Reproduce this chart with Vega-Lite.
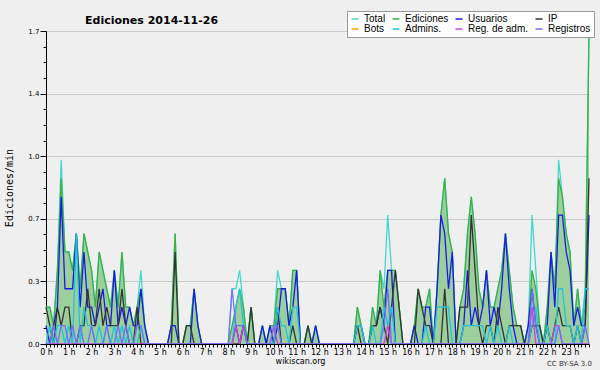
{
"$schema":"https://vega.github.io/schema/vega-lite/v6.json",
"width":543,"height":313,
"autosize":"none",
"padding":{"left":46,"top":31,"right":11,"bottom":26},
"background":"#efeff0",
"config":{"view":{"stroke":null}},
"title":{"text":"Ediciones  2014-11-26","anchor":"start","frame":"group","dx":39,"dy":19,"font":"DejaVu Sans","fontSize":11,"fontWeight":"bold","color":"black","offset":4},
"data":{"values":[
{"m":0,"T":0.2,"E":0.2,"U":0.1,"I":0.2,"A":0,"R":0,"L":0},
{"m":10,"T":0.2,"E":0.2,"U":0,"I":0.1,"A":0.1,"R":0,"L":0},
{"m":20,"T":0.1,"E":0.1,"U":0.1,"I":0,"A":0,"R":0,"L":0.1},
{"m":30,"T":0.4,"E":0.4,"U":0.2,"I":0.2,"A":0.1,"R":0,"L":0},
{"m":40,"T":1.0,"E":0.9,"U":0.8,"I":0.1,"A":0.1,"R":0,"L":0.1},
{"m":50,"T":0.5,"E":0.5,"U":0.3,"I":0.2,"A":0,"R":0,"L":0.1},
{"m":60,"T":0.5,"E":0.5,"U":0.3,"I":0.2,"A":0.1,"R":0,"L":0},
{"m":70,"T":0.4,"E":0.4,"U":0.3,"I":0,"A":0,"R":0,"L":0.1},
{"m":80,"T":0.6,"E":0.6,"U":0.6,"I":0,"A":0.6,"R":0,"L":0},
{"m":90,"T":0.3,"E":0.3,"U":0.2,"I":0.1,"A":0,"R":0,"L":0.1},
{"m":100,"T":0.6,"E":0.6,"U":0.5,"I":0.1,"A":0.2,"R":0,"L":0},
{"m":110,"T":0.5,"E":0.5,"U":0.2,"I":0.3,"A":0.1,"R":0,"L":0},
{"m":120,"T":0.4,"E":0.4,"U":0.2,"I":0.1,"A":0.1,"R":0,"L":0.1},
{"m":130,"T":0.2,"E":0.2,"U":0.1,"I":0.1,"A":0,"R":0,"L":0},
{"m":140,"T":0.5,"E":0.5,"U":0.2,"I":0.3,"A":0.1,"R":0,"L":0},
{"m":150,"T":0.4,"E":0.4,"U":0.3,"I":0.1,"A":0,"R":0,"L":0},
{"m":160,"T":0.3,"E":0.3,"U":0.1,"I":0.2,"A":0.1,"R":0,"L":0.1},
{"m":170,"T":0.2,"E":0.2,"U":0.1,"I":0.1,"A":0,"R":0,"L":0},
{"m":180,"T":0.4,"E":0.4,"U":0.4,"I":0.1,"A":0.1,"R":0,"L":0},
{"m":190,"T":0.2,"E":0.2,"U":0.1,"I":0.1,"A":0,"R":0,"L":0.1},
{"m":200,"T":0.5,"E":0.5,"U":0.2,"I":0.3,"A":0.1,"R":0,"L":0},
{"m":210,"T":0.2,"E":0.2,"U":0.1,"I":0.1,"A":0,"R":0,"L":0.1},
{"m":220,"T":0.2,"E":0.2,"U":0.2,"I":0,"A":0.1,"R":0,"L":0},
{"m":230,"T":0.1,"E":0.1,"U":0.1,"I":0,"A":0,"R":0,"L":0},
{"m":240,"T":0.2,"E":0.2,"U":0.1,"I":0.2,"A":0,"R":0,"L":0.1},
{"m":250,"T":0.4,"E":0.3,"U":0.3,"I":0,"A":0.1,"R":0,"L":0.1},
{"m":260,"T":0.1,"E":0.1,"U":0.1,"I":0,"A":0,"R":0,"L":0},
{"m":270,"T":0,"E":0,"U":0,"I":0,"A":0,"R":0,"L":0},
{"m":280,"T":0,"E":0,"U":0,"I":0,"A":0,"R":0,"L":0},
{"m":290,"T":0,"E":0,"U":0,"I":0,"A":0,"R":0,"L":0},
{"m":300,"T":0,"E":0,"U":0,"I":0,"A":0,"R":0,"L":0},
{"m":310,"T":0,"E":0,"U":0,"I":0,"A":0,"R":0,"L":0},
{"m":320,"T":0,"E":0,"U":0,"I":0,"A":0,"R":0,"L":0},
{"m":330,"T":0.1,"E":0.1,"U":0.1,"I":0,"A":0,"R":0,"L":0},
{"m":340,"T":0.6,"E":0.6,"U":0.1,"I":0.5,"A":0,"R":0,"L":0},
{"m":350,"T":0,"E":0,"U":0,"I":0,"A":0,"R":0,"L":0},
{"m":360,"T":0,"E":0,"U":0,"I":0,"A":0,"R":0,"L":0},
{"m":370,"T":0.1,"E":0.1,"U":0,"I":0.1,"A":0,"R":0,"L":0},
{"m":380,"T":0.1,"E":0.1,"U":0,"I":0.1,"A":0,"R":0,"L":0},
{"m":390,"T":0.3,"E":0.3,"U":0.3,"I":0,"A":0,"R":0,"L":0},
{"m":400,"T":0.1,"E":0.1,"U":0.1,"I":0,"A":0,"R":0,"L":0},
{"m":410,"T":0,"E":0,"U":0,"I":0,"A":0,"R":0,"L":0},
{"m":420,"T":0,"E":0,"U":0,"I":0,"A":0,"R":0,"L":0},
{"m":430,"T":0,"E":0,"U":0,"I":0,"A":0,"R":0,"L":0},
{"m":440,"T":0,"E":0,"U":0,"I":0,"A":0,"R":0,"L":0},
{"m":450,"T":0,"E":0,"U":0,"I":0,"A":0,"R":0,"L":0},
{"m":460,"T":0,"E":0,"U":0,"I":0,"A":0,"R":0,"L":0},
{"m":470,"T":0,"E":0,"U":0,"I":0,"A":0,"R":0,"L":0},
{"m":480,"T":0,"E":0,"U":0,"I":0,"A":0,"R":0,"L":0},
{"m":490,"T":0.3,"E":0.1,"U":0,"I":0,"A":0,"R":0,"L":0.3},
{"m":500,"T":0.3,"E":0.2,"U":0.1,"I":0,"A":0.2,"R":0.1,"L":0.1},
{"m":510,"T":0.4,"E":0.3,"U":0,"I":0,"A":0.3,"R":0,"L":0.1},
{"m":520,"T":0.2,"E":0.2,"U":0.1,"I":0.1,"A":0.1,"R":0.1,"L":0.1},
{"m":530,"T":0,"E":0,"U":0,"I":0,"A":0,"R":0,"L":0},
{"m":540,"T":0.2,"E":0.2,"U":0,"I":0.2,"A":0,"R":0,"L":0},
{"m":550,"T":0,"E":0,"U":0,"I":0,"A":0,"R":0,"L":0},
{"m":560,"T":0,"E":0,"U":0,"I":0,"A":0,"R":0,"L":0},
{"m":570,"T":0.1,"E":0.1,"U":0.1,"I":0,"A":0,"R":0,"L":0},
{"m":580,"T":0,"E":0,"U":0,"I":0,"A":0,"R":0,"L":0},
{"m":590,"T":0.1,"E":0.1,"U":0.1,"I":0,"A":0,"R":0,"L":0},
{"m":600,"T":0.1,"E":0.1,"U":0,"I":0,"A":0,"R":0.1,"L":0.1},
{"m":610,"T":0.4,"E":0.3,"U":0.1,"I":0.2,"A":0.2,"R":0,"L":0.1},
{"m":620,"T":0.3,"E":0.3,"U":0.3,"I":0,"A":0.1,"R":0,"L":0},
{"m":630,"T":0.3,"E":0.3,"U":0.3,"I":0,"A":0.1,"R":0,"L":0},
{"m":640,"T":0.1,"E":0.1,"U":0.1,"I":0,"A":0,"R":0,"L":0},
{"m":650,"T":0.4,"E":0.4,"U":0.2,"I":0.1,"A":0.2,"R":0,"L":0},
{"m":660,"T":0.4,"E":0.4,"U":0.4,"I":0,"A":0.2,"R":0,"L":0},
{"m":670,"T":0,"E":0,"U":0,"I":0,"A":0,"R":0,"L":0},
{"m":680,"T":0,"E":0,"U":0,"I":0,"A":0,"R":0,"L":0},
{"m":690,"T":0.1,"E":0.1,"U":0,"I":0.1,"A":0,"R":0,"L":0},
{"m":700,"T":0,"E":0,"U":0,"I":0,"A":0,"R":0,"L":0},
{"m":710,"T":0.1,"E":0.1,"U":0.1,"I":0,"A":0,"R":0,"L":0},
{"m":720,"T":0,"E":0,"U":0,"I":0,"A":0,"R":0,"L":0},
{"m":730,"T":0,"E":0,"U":0,"I":0,"A":0,"R":0,"L":0},
{"m":740,"T":0,"E":0,"U":0,"I":0,"A":0,"R":0,"L":0},
{"m":750,"T":0,"E":0,"U":0,"I":0,"A":0,"R":0,"L":0},
{"m":760,"T":0,"E":0,"U":0,"I":0,"A":0,"R":0,"L":0},
{"m":770,"T":0,"E":0,"U":0,"I":0,"A":0,"R":0,"L":0},
{"m":780,"T":0,"E":0,"U":0,"I":0,"A":0,"R":0,"L":0},
{"m":790,"T":0,"E":0,"U":0,"I":0,"A":0,"R":0,"L":0},
{"m":800,"T":0,"E":0,"U":0,"I":0,"A":0,"R":0,"L":0},
{"m":810,"T":0,"E":0,"U":0,"I":0,"A":0,"R":0,"L":0},
{"m":820,"T":0.2,"E":0.2,"U":0.1,"I":0.1,"A":0.1,"R":0,"L":0},
{"m":830,"T":0.1,"E":0.1,"U":0.1,"I":0,"A":0.1,"R":0,"L":0},
{"m":840,"T":0,"E":0,"U":0,"I":0,"A":0,"R":0,"L":0},
{"m":850,"T":0,"E":0,"U":0,"I":0,"A":0,"R":0,"L":0},
{"m":860,"T":0.2,"E":0.2,"U":0.1,"I":0.1,"A":0.1,"R":0,"L":0},
{"m":870,"T":0.1,"E":0.1,"U":0.1,"I":0.1,"A":0,"R":0,"L":0},
{"m":880,"T":0.4,"E":0.4,"U":0.2,"I":0.2,"A":0,"R":0,"L":0},
{"m":890,"T":0.3,"E":0.2,"U":0.1,"I":0.1,"A":0.2,"R":0,"L":0.1},
{"m":900,"T":0.7,"E":0.4,"U":0.4,"I":0,"A":0.1,"R":0.1,"L":0.3},
{"m":910,"T":0.4,"E":0.4,"U":0.4,"I":0.2,"A":0.2,"R":0,"L":0},
{"m":920,"T":0.4,"E":0.4,"U":0,"I":0.4,"A":0,"R":0,"L":0},
{"m":930,"T":0.2,"E":0.2,"U":0,"I":0.2,"A":0,"R":0,"L":0},
{"m":940,"T":0,"E":0,"U":0,"I":0,"A":0,"R":0,"L":0},
{"m":950,"T":0,"E":0,"U":0,"I":0,"A":0,"R":0,"L":0},
{"m":960,"T":0,"E":0,"U":0,"I":0,"A":0,"R":0,"L":0},
{"m":970,"T":0.1,"E":0.1,"U":0.1,"I":0,"A":0,"R":0,"L":0},
{"m":980,"T":0.3,"E":0.3,"U":0,"I":0.3,"A":0,"R":0,"L":0},
{"m":990,"T":0.2,"E":0.2,"U":0,"I":0.2,"A":0,"R":0,"L":0},
{"m":1000,"T":0.2,"E":0.2,"U":0.2,"I":0.1,"A":0.1,"R":0,"L":0},
{"m":1010,"T":0.3,"E":0.3,"U":0.2,"I":0.1,"A":0,"R":0,"L":0},
{"m":1020,"T":0,"E":0,"U":0,"I":0,"A":0,"R":0,"L":0},
{"m":1030,"T":0.3,"E":0.3,"U":0.3,"I":0,"A":0.2,"R":0,"L":0},
{"m":1040,"T":0.7,"E":0.7,"U":0.7,"I":0,"A":0.2,"R":0,"L":0},
{"m":1050,"T":0.9,"E":0.9,"U":0.6,"I":0.3,"A":0.2,"R":0,"L":0},
{"m":1060,"T":0.6,"E":0.6,"U":0.3,"I":0,"A":0.2,"R":0,"L":0},
{"m":1070,"T":0.5,"E":0.5,"U":0.5,"I":0,"A":0,"R":0,"L":0},
{"m":1080,"T":0,"E":0,"U":0,"I":0,"A":0,"R":0,"L":0},
{"m":1090,"T":0.2,"E":0.2,"U":0,"I":0.2,"A":0,"R":0,"L":0},
{"m":1100,"T":0.3,"E":0.3,"U":0.1,"I":0.2,"A":0.1,"R":0,"L":0},
{"m":1110,"T":0.6,"E":0.6,"U":0.4,"I":0.2,"A":0.1,"R":0,"L":0},
{"m":1120,"T":0.8,"E":0.8,"U":0.1,"I":0.7,"A":0.1,"R":0,"L":0},
{"m":1130,"T":0.6,"E":0.6,"U":0.2,"I":0.4,"A":0.1,"R":0,"L":0},
{"m":1140,"T":0.3,"E":0.3,"U":0.1,"I":0.1,"A":0.1,"R":0,"L":0},
{"m":1150,"T":0.2,"E":0.2,"U":0.2,"I":0,"A":0.1,"R":0,"L":0},
{"m":1160,"T":0.4,"E":0.4,"U":0.4,"I":0.1,"A":0,"R":0,"L":0},
{"m":1170,"T":0.2,"E":0.2,"U":0.1,"I":0.1,"A":0.1,"R":0,"L":0},
{"m":1180,"T":0.2,"E":0.2,"U":0.2,"I":0,"A":0,"R":0,"L":0},
{"m":1190,"T":0.3,"E":0.3,"U":0.1,"I":0.2,"A":0.1,"R":0,"L":0},
{"m":1200,"T":0.4,"E":0.4,"U":0.3,"I":0.1,"A":0,"R":0,"L":0},
{"m":1210,"T":0.6,"E":0.6,"U":0.6,"I":0,"A":0,"R":0,"L":0},
{"m":1220,"T":0.4,"E":0.4,"U":0.3,"I":0.1,"A":0.1,"R":0,"L":0},
{"m":1230,"T":0.2,"E":0.2,"U":0.1,"I":0.1,"A":0,"R":0,"L":0},
{"m":1240,"T":0.1,"E":0.1,"U":0,"I":0.1,"A":0,"R":0,"L":0},
{"m":1250,"T":0.1,"E":0.1,"U":0,"I":0.1,"A":0,"R":0,"L":0},
{"m":1260,"T":0,"E":0,"U":0,"I":0,"A":0,"R":0,"L":0},
{"m":1270,"T":0.1,"E":0.1,"U":0.1,"I":0,"A":0,"R":0,"L":0},
{"m":1280,"T":0.7,"E":0.4,"U":0.3,"I":0.1,"A":0.1,"R":0.2,"L":0.3},
{"m":1290,"T":0.4,"E":0.3,"U":0.1,"I":0.1,"A":0.2,"R":0,"L":0.1},
{"m":1300,"T":0.1,"E":0.1,"U":0,"I":0.1,"A":0,"R":0,"L":0},
{"m":1310,"T":0,"E":0,"U":0,"I":0,"A":0,"R":0,"L":0},
{"m":1320,"T":0.2,"E":0.2,"U":0.1,"I":0.1,"A":0.1,"R":0,"L":0},
{"m":1330,"T":0.5,"E":0.5,"U":0.5,"I":0,"A":0,"R":0,"L":0},
{"m":1340,"T":0.3,"E":0.3,"U":0.2,"I":0.1,"A":0,"R":0.1,"L":0},
{"m":1350,"T":1.0,"E":0.9,"U":0.7,"I":0.2,"A":0.3,"R":0.1,"L":0.1},
{"m":1360,"T":0.8,"E":0.8,"U":0.7,"I":0.1,"A":0.3,"R":0,"L":0},
{"m":1370,"T":0.6,"E":0.6,"U":0.5,"I":0.1,"A":0.1,"R":0,"L":0},
{"m":1380,"T":0.5,"E":0.5,"U":0.4,"I":0.1,"A":0.1,"R":0,"L":0},
{"m":1390,"T":0.1,"E":0.1,"U":0.1,"I":0,"A":0,"R":0,"L":0},
{"m":1400,"T":0.3,"E":0.3,"U":0.2,"I":0.1,"A":0.1,"R":0,"L":0},
{"m":1410,"T":0.1,"E":0.1,"U":0.1,"I":0,"A":0,"R":0,"L":0},
{"m":1420,"T":0.3,"E":0.2,"U":0.1,"I":0.1,"A":0.3,"R":0,"L":0.1},
{"m":1430,"T":1.7,"E":1.7,"U":0.7,"I":0.9,"A":0.3,"R":0,"L":0}
]},
"layer":[
{"mark":{"type":"area","color":"#9ccf9c","opacity":1},
 "encoding":{
  "x":{"field":"m","type":"quantitative","title":"wikiscan.org","scale":{"domain":[0,1430],"nice":false,"zero":false},
   "axis":{"values":[0,10,20,30,40,50,60,70,80,90,100,110,120,130,140,150,160,170,180,190,200,210,220,230,240,250,260,270,280,290,300,310,320,330,340,350,360,370,380,390,400,410,420,430,440,450,460,470,480,490,500,510,520,530,540,550,560,570,580,590,600,610,620,630,640,650,660,670,680,690,700,710,720,730,740,750,760,770,780,790,800,810,820,830,840,850,860,870,880,890,900,910,920,930,940,950,960,970,980,990,1000,1010,1020,1030,1040,1050,1060,1070,1080,1090,1100,1110,1120,1130,1140,1150,1160,1170,1180,1190,1200,1210,1220,1230,1240,1250,1260,1270,1280,1290,1300,1310,1320,1330,1340,1350,1360,1370,1380,1390,1400,1410,1420,1430],
    "tickCount":500,
    "labelExpr":"datum.value % 60 == 0 ? (datum.value/60) + ' h' : ''",
    "labelOverlap":false,"labelFlush":false,"labelFont":"DejaVu Sans","labelFontSize":8,"labelColor":"black","labelPadding":1,
    "tickSize":3,"tickColor":"black","domainColor":"black","grid":false,
    "titleFont":"DejaVu Sans","titleFontSize":8,"titleFontWeight":"normal","titleColor":"black","titleX":254,"titleY":17,"titleBaseline":"middle","zindex":1}},
  "y":{"field":"E","type":"quantitative","title":"Ediciones/min","scale":{"domain":[0,1.7],"nice":false},
   "axis":{"values":[0,0.085,0.17,0.255,0.34,0.425,0.51,0.595,0.68,0.765,0.85,0.935,1.02,1.105,1.19,1.275,1.36,1.445,1.53,1.615,1.7],
    "tickCount":500,
    "labelExpr":"round(datum.value*1000) % 340 == 0 ? format(datum.value,'.1f') : ''",
    "tickSize":{"condition":{"test":"round(datum.value*1000) % 340 == 0","value":6},"value":3},
    "grid":true,"gridColor":"#c8c8c8",
    "gridOpacity":{"condition":{"test":"round(datum.value*1000) % 340 == 0 && datum.value > 0","value":1},"value":0},
    "labelOverlap":false,"labelFlush":false,"labelFont":"DejaVu Sans","labelFontSize":7,"labelColor":"black","labelPadding":1,
    "tickColor":"black","domainColor":"black",
    "titleFont":"DejaVu Sans Mono","titleFontSize":10,"titleFontWeight":"normal","titleColor":"black","titleX":-37,"titleY":156.5,"titleBaseline":"middle","titleAngle":270}}
 }},
{"transform":[{"fold":["T","E","U","I","A","R","L"],"as":["s","v"]}],
 "mark":{"type":"line","strokeWidth":1.3},
 "encoding":{
  "x":{"field":"m","type":"quantitative","title":"wikiscan.org"},
  "y":{"field":"v","type":"quantitative","title":"Ediciones/min"},
  "color":{"field":"s","type":"nominal",
   "scale":{"domain":["T","E","U","I","B","A","R","L"],"range":["#44d8cc","#3cb043","#1a1ae6","#333333","#ffa500","#22c4dc","#d040e0","#7070ff"]},
   "legend":{"orient":"none","legendX":301,"legendY":-20,"columns":4,"direction":"horizontal","title":null,
    "labelExpr":"datum.value == 'T' ? 'Total' : datum.value == 'E' ? 'Ediciones' : datum.value == 'U' ? 'Usuarios' : datum.value == 'I' ? 'IP' : datum.value == 'B' ? 'Bots' : datum.value == 'A' ? 'Admins.' : datum.value == 'R' ? 'Reg. de adm.' : 'Registros'",
    "symbolType":"stroke","symbolSize":49,"symbolStrokeWidth":1.5,"labelFont":"Liberation Sans","labelFontSize":10,"labelColor":"black","labelOffset":4,"labelLimit":200,
    "fillColor":"white","strokeColor":"#999999","padding":3,"rowPadding":-1,"columnPadding":3}}
 }},
{"data":{"values":[{"c":"CC BY-SA 3.0"}]},
 "mark":{"type":"text","align":"right","baseline":"middle","dx":3,"dy":20,"fontSize":7,"font":"DejaVu Sans","color":"#333333"},
 "encoding":{"x":{"datum":1430,"title":"wikiscan.org"},"y":{"datum":0,"title":"Ediciones/min"},"text":{"field":"c"}}}
]
}
